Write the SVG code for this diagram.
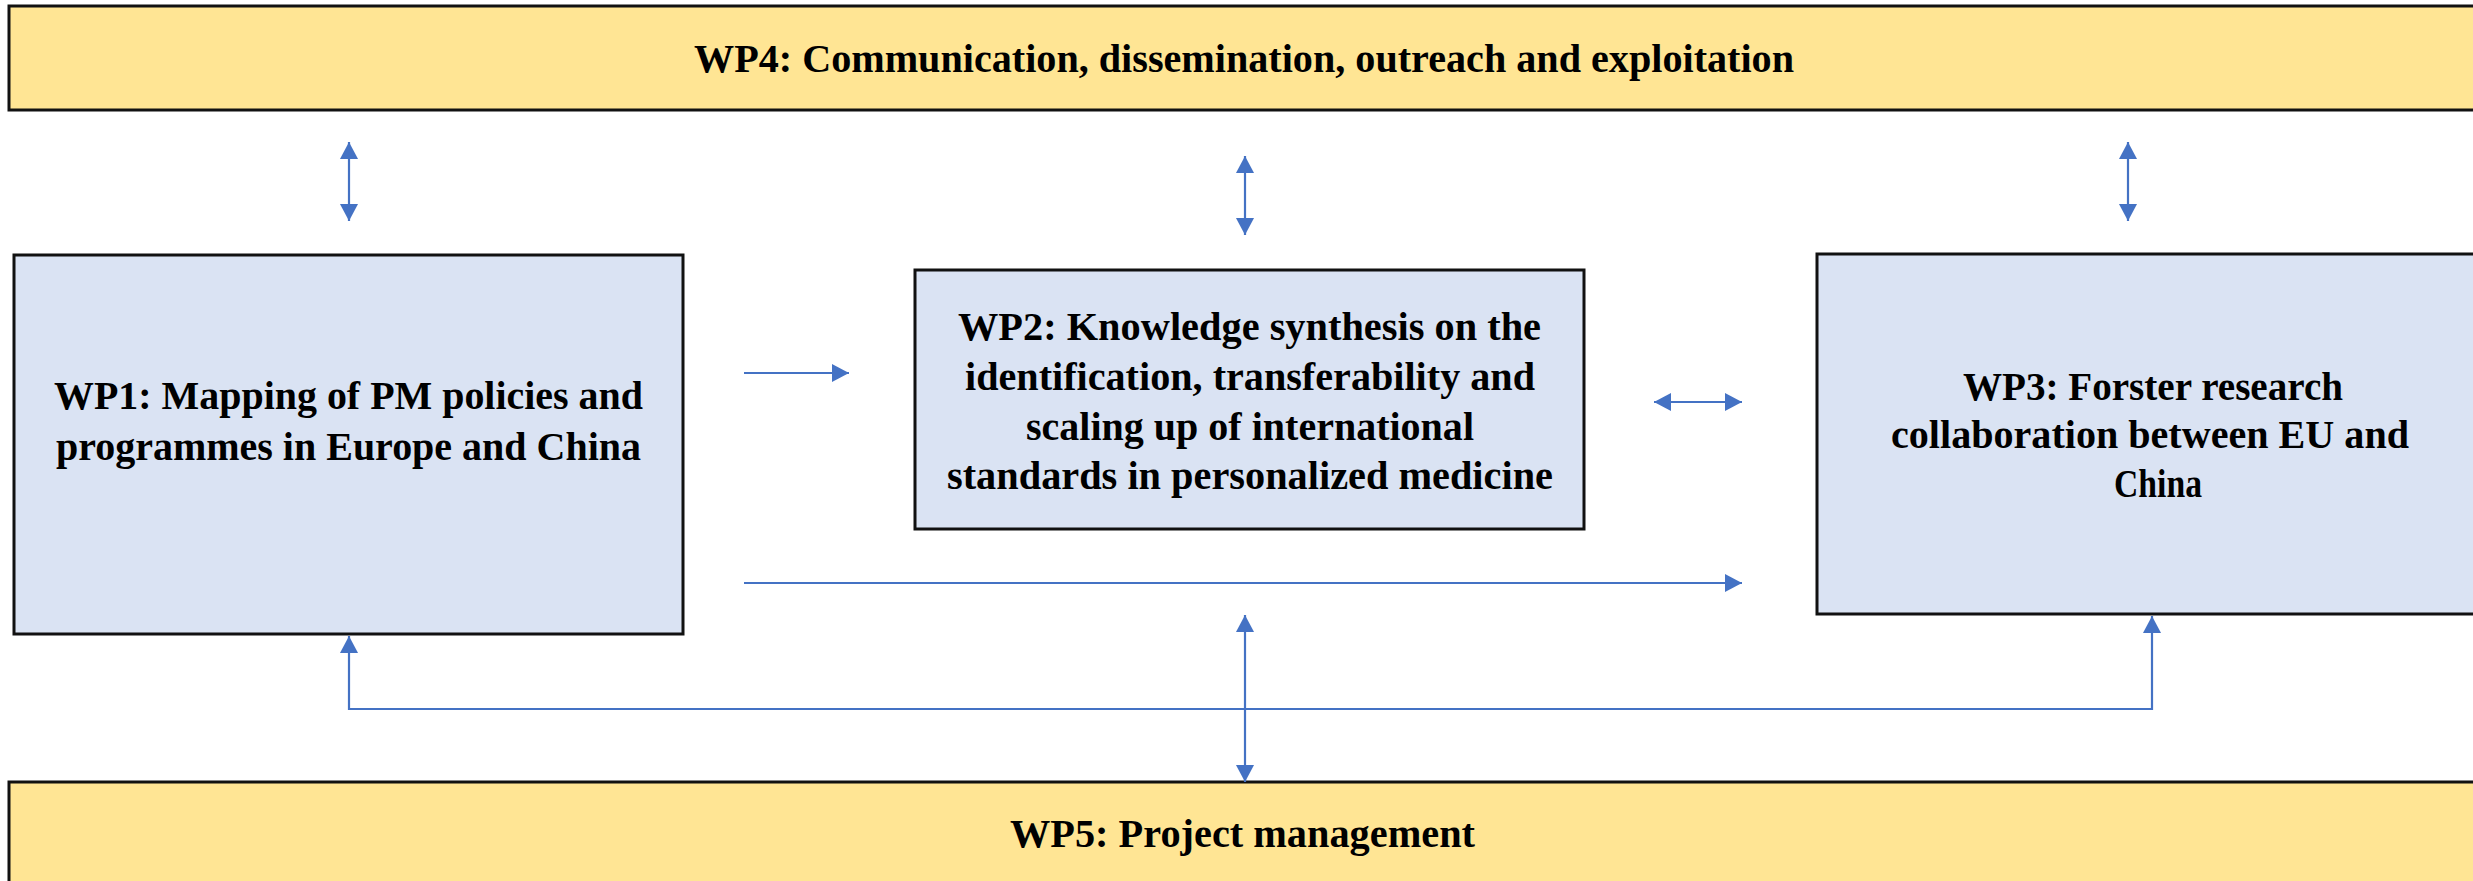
<svg xmlns="http://www.w3.org/2000/svg" width="2473" height="881" viewBox="0 0 2473 881">
<style>
.band{fill:#FFE594;stroke:#111;stroke-width:3}
.wp{fill:#DAE3F3;stroke:#111;stroke-width:3}
.t{font-family:"Liberation Serif","Times New Roman",serif;font-weight:bold;font-size:41px;fill:#000}
.c{stroke:#4472C4;stroke-width:2.2;fill:none}
</style>
<defs>
<marker id="ah" viewBox="0 0 17 18" refX="17" refY="9" markerWidth="17" markerHeight="18" markerUnits="userSpaceOnUse" orient="auto-start-reverse">
<path d="M0,0 L17,9 L0,18 Z" fill="#4472C4"/>
</marker>
</defs>
<rect width="2473" height="881" fill="#fff"/>
<g id="wp4">
<rect class="band" x="9" y="6" width="2480" height="104"/>
<text class="t" x="694" y="72" textLength="1100" lengthAdjust="spacingAndGlyphs">WP4: Communication, dissemination, outreach and exploitation</text>
</g>
<g id="wp1">
<rect class="wp" x="14" y="255" width="669" height="379"/>
<text class="t" x="54" y="409" textLength="589" lengthAdjust="spacingAndGlyphs">WP1: Mapping of PM policies and</text>
<text class="t" x="56" y="460" textLength="585" lengthAdjust="spacingAndGlyphs">programmes  in Europe and China</text>
</g>
<g id="wp2">
<rect class="wp" x="915" y="270" width="669" height="259"/>
<text class="t" x="958" y="340" textLength="583" lengthAdjust="spacingAndGlyphs">WP2: Knowledge synthesis on the</text>
<text class="t" x="965" y="390" textLength="570" lengthAdjust="spacingAndGlyphs">identification, transferability  and</text>
<text class="t" x="1026" y="440" textLength="448" lengthAdjust="spacingAndGlyphs">scaling up of international</text>
<text class="t" x="947" y="489" textLength="606" lengthAdjust="spacingAndGlyphs">standards in personalized  medicine</text>
</g>
<g id="wp3">
<rect class="wp" x="1817" y="254" width="680" height="360"/>
<text class="t" x="1963" y="400" textLength="380" lengthAdjust="spacingAndGlyphs">WP3: Forster  research</text>
<text class="t" x="1891" y="448" textLength="518" lengthAdjust="spacingAndGlyphs">collaboration  between EU and</text>
<text class="t" x="2114" y="497" textLength="88" lengthAdjust="spacingAndGlyphs">China</text>
</g>
<g id="wp5">
<rect class="band" x="9" y="782" width="2480" height="110"/>
<text class="t" x="1010" y="847" textLength="465" lengthAdjust="spacingAndGlyphs">WP5: Project  management</text>
</g>
<g id="connectors">
<line class="c" x1="349" y1="142" x2="349" y2="221" marker-start="url(#ah)" marker-end="url(#ah)"/>
<line class="c" x1="1245" y1="156" x2="1245" y2="235" marker-start="url(#ah)" marker-end="url(#ah)"/>
<line class="c" x1="2128" y1="142" x2="2128" y2="221" marker-start="url(#ah)" marker-end="url(#ah)"/>
<line class="c" x1="744" y1="373" x2="849" y2="373" marker-end="url(#ah)"/>
<line class="c" x1="1654" y1="402" x2="1742" y2="402" marker-start="url(#ah)" marker-end="url(#ah)"/>
<line class="c" x1="744" y1="583" x2="1742" y2="583" marker-end="url(#ah)"/>
<line class="c" x1="1245" y1="615" x2="1245" y2="782" marker-start="url(#ah)" marker-end="url(#ah)"/>
<polyline class="c" points="349,636 349,709 2152,709 2152,616" marker-start="url(#ah)" marker-end="url(#ah)"/>
</g>
</svg>
